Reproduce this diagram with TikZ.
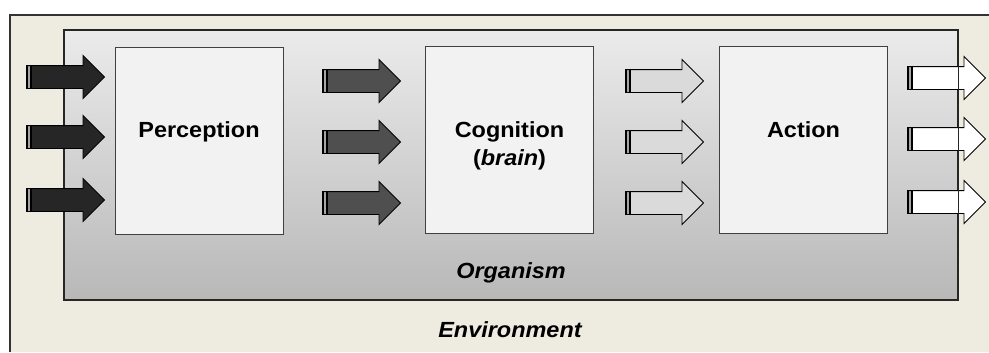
\documentclass[tikz,border=0pt]{standalone}
\usepackage{fontspec}
\setmainfont{Liberation Sans}[FakeStretch=1.07]
\usepackage{tikz}
\usetikzlibrary{shapes.arrows, positioning, calc}
\definecolor{envbg}{HTML}{EEEBE1}
\definecolor{orgtop}{HTML}{EBEBEB}
\definecolor{orgbot}{HTML}{B8B8B8}
\definecolor{boxfill}{HTML}{F2F2F2}
\definecolor{darkarrow}{HTML}{262626}
\definecolor{midarrow}{HTML}{4F4F4F}
\definecolor{lightarrow}{HTML}{DADADA}
\tikzset{
    organism/.style={rectangle, draw=black!85, line width=1.1bp, top color=orgtop, bottom color=orgbot, minimum width=894bp, minimum height=270bp, inner sep=0pt},
    stage/.style={rectangle, draw=black!75, line width=1bp, fill=boxfill, minimum width=168bp, minimum height=187bp, inner sep=0pt},
    stagelabel/.style={font=\fontsize{22}{28}\selectfont\bfseries, align=center, anchor=base, inner sep=0pt},
    envlabel/.style={font=\fontsize{22}{26}\selectfont\bfseries\itshape, anchor=base, inner sep=0pt},
    flow/.style={single arrow, draw=black, line width=0.9bp, minimum height=78bp, minimum width=0pt,
        inner xsep=0pt, inner ysep=11bp, single arrow head extend=10bp, single arrow tip angle=90, anchor=tail,
        path picture={
            \fill[black] (path picture bounding box.south west) rectangle ([xshift=6bp]path picture bounding box.north west);
            \fill[gray!70] ([xshift=2bp]path picture bounding box.south west) rectangle ([xshift=3.5bp]path picture bounding box.north west);
        }},
    inflow/.style={flow, fill=darkarrow},
    midflow/.style={flow, fill=midarrow},
    actflow/.style={flow, fill=lightarrow},
    outflow/.style={flow, fill=white}
}

\begin{document}
\begin{tikzpicture}[x=1bp, y=-1bp]
  \useasboundingbox (0,0) rectangle (989,352);
  % environment, only its top and left edges are in view
  \fill[envbg] (10,15) rectangle (989,352);
  \draw[black!80, line width=1.2bp] (989,15) -- (10,15) -- (10,352);
  \node[envlabel] (envtext) at (510,337) {Environment};

  \node[organism] (org) at (511,165) {};
  \node[envlabel] (orgtext) at (511,278) {Organism};

  \node[stage] (perc) at (199,140.5) {};
  \node[stage] (cogn) at (509.5,140) {};
  \node[stage] (act) at (803.5,140) {};
  \node[stagelabel] (perctext) at (199,137) {Perception};
  \node[stagelabel] (cogntext) at (509.5,165) {Cognition\\(\textit{brain})};
  \node[stagelabel] (acttext) at (803.5,137) {Action};

  \node[inflow] (in1) at (26,77) {};
  \node[inflow] (in2) at (26,137) {};
  \node[inflow] (in3) at (26,200) {};
  \node[midflow] (pc1) at (322,81) {};
  \node[midflow] (pc2) at (322,142) {};
  \node[midflow] (pc3) at (322,203) {};
  \node[actflow] (ca1) at (625,81) {};
  \node[actflow] (ca2) at (625,142) {};
  \node[actflow] (ca3) at (625,203) {};
  \node[outflow] (out1) at (907,78) {};
  \node[outflow] (out2) at (907,139) {};
  \node[outflow] (out3) at (907,202) {};
  % organism edge shows through the arrows
  \draw[black!85, line width=1.1bp] (org.north east) -- (org.south east);
\end{tikzpicture}
\end{document}
